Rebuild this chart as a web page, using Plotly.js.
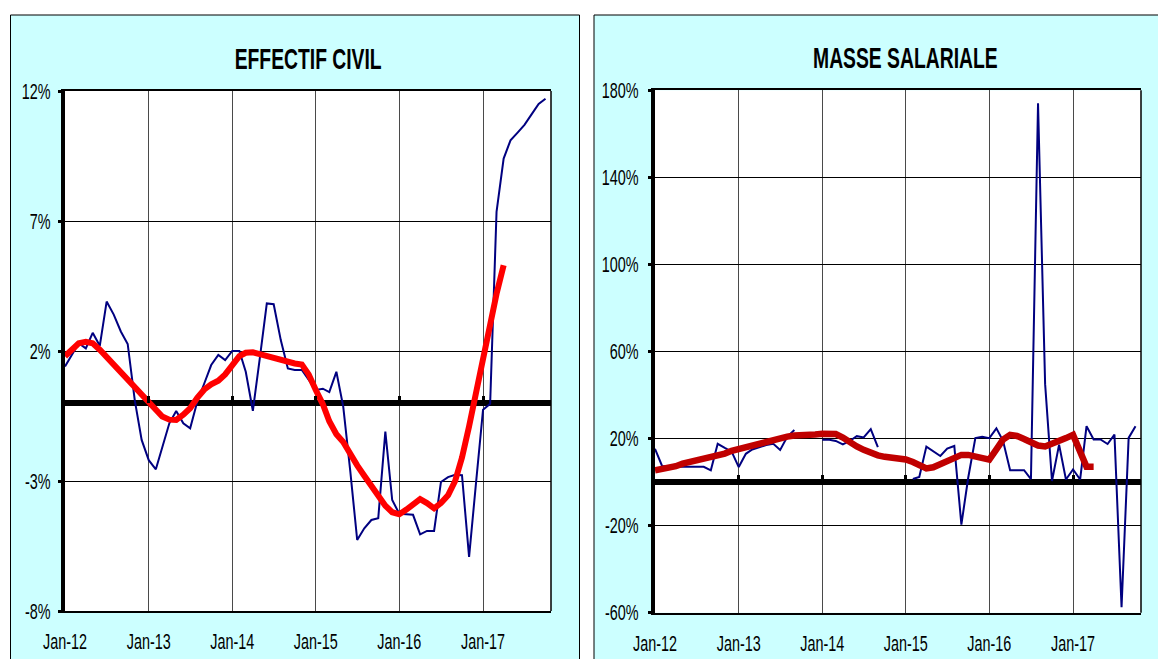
<!DOCTYPE html>
<html>
<head>
<meta charset="utf-8">
<script src="https://cdn.plot.ly/plotly-3.0.1.min.js"></script>
<style>
html,body{margin:0;padding:0;background:#fff;}
#chart{width:1158px;height:659px;}
</style>
</head>
<body>
<div id="chart"></div>
<script>
// ---------- DATA ----------
const months = [
 '2012-01','2012-02','2012-03','2012-04','2012-05','2012-06','2012-07','2012-08','2012-09','2012-10','2012-11','2012-12',
 '2013-01','2013-02','2013-03','2013-04','2013-05','2013-06','2013-07','2013-08','2013-09','2013-10','2013-11','2013-12',
 '2014-01','2014-02','2014-03','2014-04','2014-05','2014-06','2014-07','2014-08','2014-09','2014-10','2014-11','2014-12',
 '2015-01','2015-02','2015-03','2015-04','2015-05','2015-06','2015-07','2015-08','2015-09','2015-10','2015-11','2015-12',
 '2016-01','2016-02','2016-03','2016-04','2016-05','2016-06','2016-07','2016-08','2016-09','2016-10','2016-11','2016-12',
 '2017-01','2017-02','2017-03','2017-04','2017-05','2017-06','2017-07','2017-08','2017-09','2017-10'
];
const janDates  = ['2012-01-01','2013-01-01','2014-01-01','2015-01-01','2016-01-01','2017-01-01'];
const janLabels = ['Jan-12','Jan-13','Jan-14','Jan-15','Jan-16','Jan-17'];

// EFFECTIF CIVIL (%), monthly y/y change and smoothed trend
const effectifMonthly = [
 1.4, 1.85, 2.3, 2.1, 2.7, 2.2, 3.9, 3.4, 2.75, 2.27, 0.1, -1.42,
 -2.2, -2.55, -1.68, -0.78, -0.31, -0.78, -0.97, 0.05, 0.76, 1.46, 1.85, 1.65,
 2.0, 2.0, 1.2, -0.3, 1.7, 3.83, 3.8, 2.42, 1.33, 1.27, 1.27, 0.9,
 0.5, 0.55, 0.42, 1.2, -0.14, -2.64, -5.27, -4.82, -4.5, -4.43, -1.1, -3.73,
 -4.26, -4.28, -4.3, -5.05, -4.92, -4.92, -3.04, -2.85, -2.76, -2.78, -5.92, -3.1,
 -0.26, -0.03, 7.35, 9.4, 10.1, 10.4, 10.7, 11.1, 11.5, 11.7
];
const effectifTrend = [
 1.8, 2.1, 2.3, 2.35, 2.3, 2.05, 1.76, 1.47, 1.2, 0.93, 0.62, 0.3,
 0.0, -0.32, -0.52, -0.64, -0.65, -0.45, -0.2, 0.2, 0.52, 0.72, 0.86, 1.1,
 1.45, 1.8, 1.93, 1.95, 1.88, 1.8, 1.74, 1.64, 1.56, 1.52, 1.48, 1.1,
 0.5, -0.05, -0.7, -1.2, -1.5, -2.0, -2.4, -2.8, -3.2, -3.6, -3.95, -4.2,
 -4.28, -4.1, -3.9, -3.7, -3.85, -4.05, -3.85, -3.55, -3.0, -2.1, -0.9, 0.4,
 1.85, 3.05, 4.2, 5.3
];

// MASSE SALARIALE (%), monthly y/y change (with gaps) and smoothed trend
const masseMonthly = [
 15.3, 7.4, 7.2, 7.0, 7.0, 7.0, 7.0, 7.0, 5.4, 17.6, 15.7, 14.0,
 6.9, 13.0, 15.0, 16.0, 17.0, 17.6, 14.8, 20.8, 23.9, null, null, null,
 19.5, 19.5, 18.9, 17.3, 18.9, 21.1, 20.5, 24.3, 16.1, null, null, null,
 null, 1.4, 2.4, 16.3, 14.0, 12.0, 15.4, 16.6, -19.5, 2.1, 20.2, 20.8,
 20.2, 24.7, 19.0, 5.5, 5.5, 5.5, 1.4, 174, 45, 0.5, 17.2, 1.2,
 5.8, 1.2, 25.7, 19.6, 19.6, 17.5, 21.8, -57.5, 20.3, 25.7
];
const masseTrend = [
 5.4, 5.8, 6.3, 7.3, 8.5, 9.3, 9.6, 10.3, 11.2, 12.1, 13.1, 14.4,
 15.3, 16.2, 16.8, 17.8, 18.8, 19.7, 20.5, 20.9, 21.4, 21.8, 21.9, 21.9,
 22.2, 22.4, 22.1, 20.5, 18.3, 16.4, 14.8, 13.2, 12.3, 11.6, 11.2, 10.8,
 10.4, 9.2, 7.5, 6.3, 6.8, 8.3, 9.6, 11.2, 12.5, 12.5, 11.7, 10.6,
 10.3, 15.0, 19.5, 21.7, 21.2, 19.8, 18.4, 16.8, 16.4, 17.4, 18.6, 20.2,
 21.7, 14.4, 7.0, 7.0
];

const leftTickVals  = [-8, -3, 2, 7, 12];
const leftTickText  = ['-8%', '-3%', '2%', '7%', '12%'];
const rightTickVals = [-60, -20, 20, 60, 100, 140, 180];
const rightTickText = ['-60%', '-20%', '20%', '60%', '100%', '140%', '180%'];

const titles = ['EFFECTIF CIVIL', 'MASSE SALARIALE'];

// ---------- LAYOUT HELPERS ----------
const W = 1158, H = 659;
const fx = px => px / W;
const fy = py => (H - py) / H;
const FAM = '"Liberation Sans Narrow", "Arial Narrow", "Liberation Sans", Arial, sans-serif';
const xRange = ['2012-01-01', '2017-10-25'];

const leftY = [fy(611), fy(91)];
const rightY = [fy(612.7), fy(90.3)];
const zeroPosLeft = leftY[0] + (8 / 20) * (leftY[1] - leftY[0]);
const zeroPosRight = rightY[0] + (60 / 240) * (rightY[1] - rightY[0]);

function xAxis(domain, anchor) {
  return {
    domain: domain, anchor: anchor, type: 'date', range: xRange,
    tickmode: 'array', tickvals: janDates, ticktext: janLabels,
    showgrid: true, gridcolor: '#4a4a4a', gridwidth: 1,
    showline: true, linecolor: '#000', linewidth: 2, mirror: true,
    ticks: '', ticklabelstandoff: 10,
    tickfont: {family: FAM, size: 22, color: '#000'},
    zeroline: false, fixedrange: true
  };
}
function yAxis(domain, anchor, range, vals, text, standoff) {
  return {
    domain: domain, anchor: anchor, range: range,
    tickmode: 'array', tickvals: vals, ticktext: text,
    showgrid: true, gridcolor: '#000', gridwidth: 1,
    zeroline: true, zerolinecolor: '#000', zerolinewidth: 6,
    showline: true, linecolor: '#000', linewidth: 4,
    ticks: 'outside', ticklen: 3, tickwidth: 3, tickcolor: '#000',
    ticklabelstandoff: standoff,
    tickfont: {family: FAM, size: 22, color: '#000'},
    fixedrange: true
  };
}
function zeroTicks(overlay, pos) {
  return {
    overlaying: overlay, anchor: 'free', position: pos, type: 'date', range: xRange,
    tickmode: 'array', tickvals: janDates, ticks: 'inside', ticklen: 7, tickwidth: 3,
    tickcolor: '#000', showticklabels: false, showgrid: false, showline: false,
    zeroline: false, fixedrange: true
  };
}

const traces = [
  {x: months, y: effectifMonthly, xaxis: 'x', yaxis: 'y', mode: 'lines',
   line: {color: '#000080', width: 2}, hoverinfo: 'skip', showlegend: false},
  {x: months.slice(0, effectifTrend.length), y: effectifTrend, xaxis: 'x', yaxis: 'y', mode: 'lines',
   line: {color: '#FF0000', width: 6}, hoverinfo: 'skip', showlegend: false},
  {x: months, y: masseMonthly, xaxis: 'x2', yaxis: 'y2', mode: 'lines', connectgaps: false,
   line: {color: '#000080', width: 2}, hoverinfo: 'skip', showlegend: false},
  {x: months.slice(0, masseTrend.length), y: masseTrend, xaxis: 'x2', yaxis: 'y2', mode: 'lines',
   line: {color: '#C00000', width: 6.5}, hoverinfo: 'skip', showlegend: false},
  {x: [months[0]], y: [null], xaxis: 'x3', yaxis: 'y', mode: 'lines', hoverinfo: 'skip', showlegend: false},
  {x: [months[0]], y: [null], xaxis: 'x4', yaxis: 'y2', mode: 'lines', hoverinfo: 'skip', showlegend: false}
];

const layout = {
  width: W, height: H,
  margin: {l: 0, r: 0, t: 0, b: 0, pad: 0},
  paper_bgcolor: '#ffffff', plot_bgcolor: '#ffffff',
  showlegend: false,
  xaxis: xAxis([fx(65), fx(551)], 'y'),
  yaxis: yAxis(leftY, 'x', [-8, 12], leftTickVals, leftTickText, 3),
  xaxis2: xAxis([fx(655), fx(1141)], 'y2'),
  yaxis2: yAxis(rightY, 'x2', [-60, 180], rightTickVals, rightTickText, 5),
  xaxis3: zeroTicks('x', zeroPosLeft),
  xaxis4: zeroTicks('x2', zeroPosRight),
  shapes: [
    {type: 'rect', xref: 'paper', yref: 'paper', x0: fx(10.5), x1: fx(579.5), y0: fy(680), y1: fy(15),
     fillcolor: '#CCFFFF', line: {color: '#000', width: 1}, layer: 'below'},
    {type: 'rect', xref: 'paper', yref: 'paper', x0: fx(594), x1: fx(1180), y0: fy(680), y1: fy(15),
     fillcolor: '#CCFFFF', line: {color: '#000', width: 1}, layer: 'below'},
    {type: 'rect', xref: 'x domain', yref: 'y domain', x0: 0, x1: 1, y0: 0, y1: 1,
     fillcolor: '#ffffff', line: {width: 0}, layer: 'below'},
    {type: 'rect', xref: 'x2 domain', yref: 'y2 domain', x0: 0, x1: 1, y0: 0, y1: 1,
     fillcolor: '#ffffff', line: {width: 0}, layer: 'below'},
    {type: 'line', xref: 'x domain', yref: 'y domain', x0: 1, x1: 1, y0: 0, y1: 1,
     line: {color: '#000', width: 1.5}},
    {type: 'line', xref: 'x2 domain', yref: 'y2 domain', x0: 1, x1: 1, y0: 0, y1: 1,
     line: {color: '#000', width: 1.5}}
  ],
  annotations: [
    {text: titles[0], xref: 'paper', yref: 'paper', x: fx(308), y: fy(58), xanchor: 'center', yanchor: 'middle',
     showarrow: false, font: {family: FAM, size: 30, color: '#000', weight: 700}},
    {text: titles[1], xref: 'paper', yref: 'paper', x: fx(905), y: fy(57), xanchor: 'center', yanchor: 'middle',
     showarrow: false, font: {family: FAM, size: 30, color: '#000', weight: 700}}
  ]
};

const gd = document.getElementById('chart');
Plotly.newPlot(gd, traces, layout, {staticPlot: true, displayModeBar: false}).then(() => {
  // condense glyphs horizontally to match the narrow lettering of the original
  const ctx = document.createElement('canvas').getContext('2d');
  ctx.font = '22px ' + FAM;
  const kReg = 44 / ctx.measureText('Jan-12').width;
  ctx.font = 'bold 30px ' + FAM;
  const kBold = 147 / ctx.measureText('EFFECTIF CIVIL').width;
  const squeeze = (el, k) => {
    const L = el.getComputedTextLength();
    if (L > 0) {
      el.setAttribute('textLength', (L * k).toFixed(2));
      el.setAttribute('lengthAdjust', 'spacingAndGlyphs');
    }
  };
  gd.querySelectorAll('.xtick text, .ytick text, .x2tick text, .y2tick text').forEach(t => squeeze(t, kReg));
  gd.querySelectorAll('text.annotation-text').forEach(t => squeeze(t, kBold));
});
</script>
</body>
</html>
